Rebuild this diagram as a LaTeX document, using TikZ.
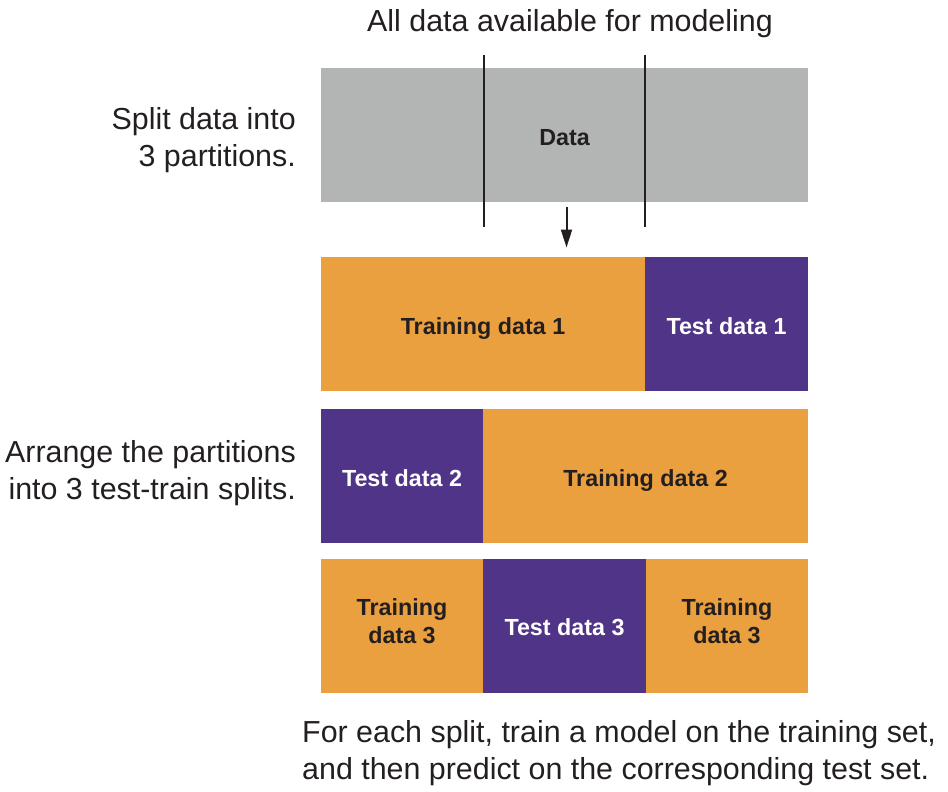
\documentclass[tikz,border=0pt]{standalone}
\usepackage{fontspec}
\setmainfont{Liberation Sans}
\usetikzlibrary{arrows.meta}
\definecolor{greybox}{HTML}{B3B5B4}
\definecolor{orangebox}{HTML}{EBA040}
\definecolor{purplebox}{HTML}{503487}
\definecolor{ink}{HTML}{231F20}
\tikzset{
  box/.style={anchor=north west, inner sep=0pt, outer sep=0pt, minimum height=134bp, align=center,
    text height=20.5bp, text depth=0pt, font=\fontsize{23.3bp}{28bp}\selectfont\bfseries},
  twoline/.style={text height=36bp},
  trainbox/.style={box, fill=orangebox, text=ink},
  testbox/.style={box, fill=purplebox, text=white},
  databox/.style={box, fill=greybox, text=ink},
  caption/.style={font=\fontsize{30.4bp}{37bp}\selectfont, text=ink, inner sep=0pt},
  divider/.style={line width=2bp, ink},
  flow/.style={line width=2bp, ink, -{Triangle[length=18bp, width=11bp]}}
}
\begin{document}
\begin{tikzpicture}[x=1bp, y=-1bp]
\useasboundingbox (0,0) rectangle (948,792);
% top caption
\node[caption, anchor=base] (title) at (570,32) {All data available for modeling};
% data box
\node[databox, minimum width=487bp] (data) at (321,68) {Data};
% dividers
\coordinate (d1top) at (484,55);
\coordinate (d1bot) at (484,227);
\coordinate (d2top) at (645,55);
\coordinate (d2bot) at (645,227);
\draw[divider] (d1top) -- (d1bot);
\draw[divider] (d2top) -- (d2bot);
% arrow
\coordinate (astart) at (566.5,207);
\coordinate (aend) at (566.5,247.5);
\draw[flow] (astart) -- (aend);
% row 1
\node[trainbox, minimum width=324bp] (tr1) at (321,257) {Training data 1};
\node[testbox, minimum width=163bp] (te1) at (645,257) {Test data 1};
% row 2
\node[testbox, minimum width=162bp] (te2) at (321,409) {Test data 2};
\node[trainbox, minimum width=325bp] (tr2) at (483,409) {Training data 2};
% row 3
\node[trainbox, twoline, minimum width=162bp] (tr3a) at (321,558.5) {Training\\data 3};
\node[testbox, minimum width=163bp] (te3) at (483,558.5) {Test data 3};
\node[trainbox, twoline, minimum width=162bp] (tr3b) at (646,558.5) {Training\\data 3};
% left captions
\node[caption, anchor=base east] (split1) at (296,129) {Split data into};
\node[caption, anchor=base east] (split2) at (296,166) {3 partitions.};
\node[caption, anchor=base east] (arr1) at (296,462) {Arrange the partitions};
\node[caption, anchor=base east] (arr2) at (296,499) {into 3 test-train splits.};
% bottom caption
\node[caption, anchor=base west] (foot1) at (302,742) {For each split, train a model on the training set,};
\node[caption, anchor=base west] (foot2) at (302,779) {and then predict on the corresponding test set.};
\end{tikzpicture}
\end{document}
